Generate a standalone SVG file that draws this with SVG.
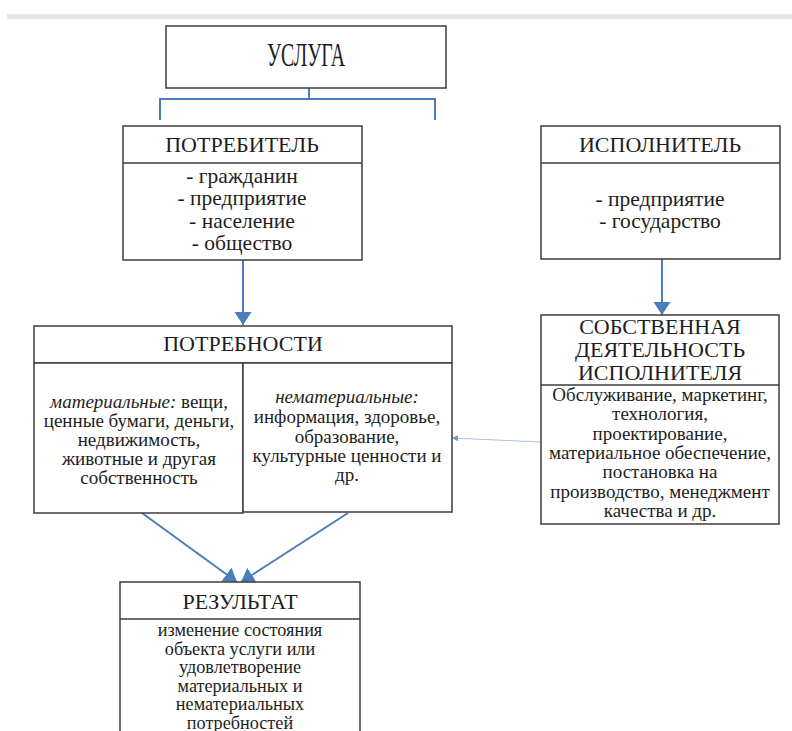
<svg xmlns="http://www.w3.org/2000/svg" width="792" height="731" viewBox="0 0 792 731">
<style>
.box{fill:#fff;stroke:#3c3c3c;stroke-width:1.5}
.div{stroke:#3c3c3c;stroke-width:1.5}
text{font-family:"Liberation Serif","Times New Roman",serif;fill:#1e1e1e;text-anchor:middle}
.h{font-size:22px}
.b{font-size:21.5px}
.s{font-size:19px}
.r{font-size:18.2px}
.i{font-style:italic}
.con{fill:none;stroke:#4a7ebb;stroke-width:2}
.thin{fill:none;stroke:#a8c2e0;stroke-width:1}
</style>
<defs>
<marker id="ah" viewBox="0 0 13 17" refX="13" refY="8.5" markerWidth="13" markerHeight="17" markerUnits="userSpaceOnUse" orient="auto"><path d="M0,0 L13,8.5 L0,17 z" fill="#4a7ebb"/></marker>
<marker id="ahs" viewBox="0 0 6 6" refX="6" refY="3" markerWidth="6" markerHeight="6" markerUnits="userSpaceOnUse" orient="auto"><path d="M0,0 L6,3 L0,6 z" fill="#6f97c8"/></marker>
</defs>
<rect x="7" y="14" width="785" height="5" fill="#e6e6e6"/>

<g id="connectors">
<path class="con" d="M309,88 V99 M160,120 V99 H435 V120"/>
<path class="con" d="M243,260 V325" marker-end="url(#ah)"/>
<path class="con" d="M662,259 V315" marker-end="url(#ah)"/>
<path class="con" d="M142,513 L237,582" marker-end="url(#ah)"/>
<path class="con" d="M348,513 L241,582" marker-end="url(#ah)"/>
<path class="thin" d="M540,442 L452,438" marker-end="url(#ahs)"/>
</g>

<g id="usluga">
<rect class="box" x="166" y="26" width="280" height="62"/>
<text x="306" y="66" font-size="33" textLength="78" lengthAdjust="spacingAndGlyphs">УСЛУГА</text>
</g>

<g id="potrebitel">
<rect class="box" x="123" y="126" width="239" height="134"/>
<line class="div" x1="123" y1="163" x2="362" y2="163"/>
<text class="h" x="242" y="152">ПОТРЕБИТЕЛЬ</text>
<text class="b" x="242" y="183">- гражданин</text>
<text class="b" x="242" y="205">- предприятие</text>
<text class="b" x="242" y="228">- население</text>
<text class="b" x="242" y="250">- общество</text>
</g>

<g id="ispolnitel">
<rect class="box" x="541" y="126" width="239" height="133"/>
<line class="div" x1="541" y1="163" x2="780" y2="163"/>
<text class="h" x="660" y="152">ИСПОЛНИТЕЛЬ</text>
<text class="b" x="660" y="206" font-size="22">- предприятие</text>
<text class="b" x="660" y="228" font-size="22">- государство</text>
</g>

<g id="potrebnosti">
<rect class="box" x="34" y="326" width="418" height="37"/>
<text class="h" x="243" y="351">ПОТРЕБНОСТИ</text>
<rect class="box" x="34" y="363" width="209" height="150"/>
<rect class="box" x="243" y="363" width="209" height="149"/>
<text class="s" x="139" y="408"><tspan class="i">материальные:</tspan> вещи,</text>
<text class="s" x="139" y="427">ценные бумаги, деньги,</text>
<text class="s" x="139" y="446">недвижимость,</text>
<text class="s" x="139" y="465">животные и другая</text>
<text class="s" x="139" y="484">собственность</text>
<text class="s i" x="347" y="403">нематериальные:</text>
<text class="s" x="347" y="423">информация, здоровье,</text>
<text class="s" x="347" y="443">образование,</text>
<text class="s" x="347" y="462">культурные ценности и</text>
<text class="s" x="347" y="481">др.</text>
</g>

<g id="deyatelnost">
<rect class="box" x="541" y="315" width="238" height="209"/>
<line class="div" x1="541" y1="385" x2="779" y2="385"/>
<text class="h" x="660" y="334" font-size="22">СОБСТВЕННАЯ</text>
<text class="h" x="660" y="357" font-size="22">ДЕЯТЕЛЬНОСТЬ</text>
<text class="h" x="660" y="380" font-size="22">ИСПОЛНИТЕЛЯ</text>
<text class="s" x="660" y="401" font-size="19.2">Обслуживание, маркетинг,</text>
<text class="s" x="660" y="420.3" font-size="19.2">технология,</text>
<text class="s" x="660" y="439.6" font-size="19.2">проектирование,</text>
<text class="s" x="660" y="458.9" font-size="19.2">материальное обеспечение,</text>
<text class="s" x="660" y="478.2" font-size="19.2">постановка на</text>
<text class="s" x="660" y="497.5" font-size="19.2">производство, менеджмент</text>
<text class="s" x="660" y="516.8" font-size="19.2">качества и др.</text>
</g>

<g id="rezultat">
<path class="box" d="M120,740 V582 H360 V740"/>
<line class="div" x1="120" y1="619" x2="360" y2="619"/>
<text class="h" x="240" y="609" font-size="23">РЕЗУЛЬТАТ</text>
<text class="r" x="240" y="636">изменение состояния</text>
<text class="r" x="240" y="654.5">объекта услуги или</text>
<text class="r" x="240" y="673">удовлетворение</text>
<text class="r" x="240" y="691.5">материальных и</text>
<text class="r" x="240" y="710">нематериальных</text>
<text class="r" x="240" y="728.5">потребностей</text>
</g>
</svg>
